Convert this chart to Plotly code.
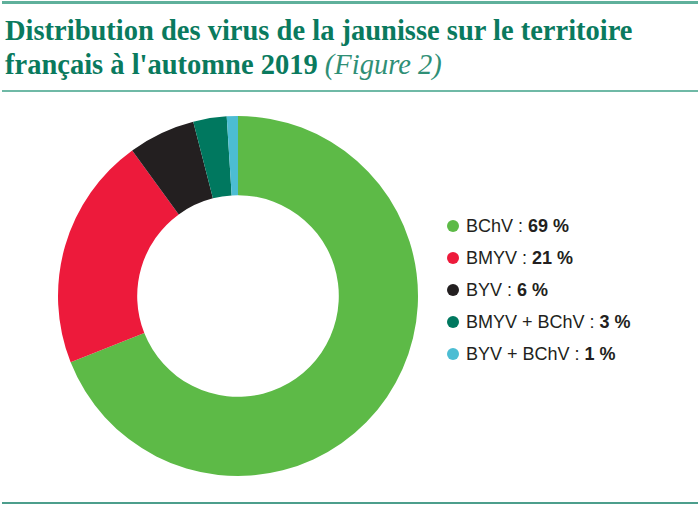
import plotly.graph_objects as go

labels = ["BChV", "BMYV", "BYV", "BMYV + BChV", "BYV + BChV"]
values = [69, 21, 6, 3, 1]
colors = ["#5dba47", "#ed1a3b", "#231f20", "#00785f", "#4cbdd3"]

title_line1 = "Distribution des virus de la jaunisse sur le territoire"
title_line2 = "français à l'automne 2019"
title_fig = "(Figure 2)"

W, H = 700, 506

fig = go.Figure()
fig.add_trace(go.Pie(
    labels=labels, values=values, sort=False, direction="clockwise", rotation=0,
    hole=0.56, marker=dict(colors=colors, line=dict(width=0)),
    textinfo="none", hoverinfo="label+percent", showlegend=False,
    domain=dict(x=[58/W, 418/W], y=[1-476/H, 1-116/H]),
))

ann = [
    dict(x=3/W, y=1-31/H, xref="paper", yref="paper", xanchor="left", yanchor="middle",
         text=f"<b>{title_line1}</b>", showarrow=False,
         font=dict(family="Liberation Serif", size=28.5, color="#0a7a5e")),
    dict(x=3/W, y=1-65/H, xref="paper", yref="paper", xanchor="left", yanchor="middle",
         text=f"<b>{title_line2}</b> <span style='color:#2f8f76'><i>{title_fig}</i></span>",
         showarrow=False,
         font=dict(family="Liberation Serif", size=28.5, color="#0a7a5e")),
]

shapes = []
for i, (lab, val, col) in enumerate(zip(labels, values, colors)):
    yc = 226 + 32 * i
    ann.append(dict(x=464/W, y=1-yc/H, xref="paper", yref="paper", xanchor="left", yanchor="middle",
                    text=f"{lab} : <b>{val} %</b>",
                    showarrow=False,
                    font=dict(family="Liberation Sans", size=18, color="#231f20")))
    shapes.append(dict(type="circle", xref="paper", yref="paper",
                       x0=447/W, x1=459/W, y0=1-(yc+6)/H, y1=1-(yc-6)/H,
                       fillcolor=col, line=dict(width=0)))

shapes += [
    dict(type="rect", xref="paper", yref="paper", x0=2/W, x1=698/W, y0=1-4/H, y1=1-1/H,
         fillcolor="#5fb09b", line=dict(width=0), layer="above"),
    dict(type="line", xref="paper", yref="paper", x0=2/W, x1=698/W, y0=1-91/H, y1=1-91/H,
         line=dict(color="#6fb9a6", width=2)),
    dict(type="line", xref="paper", yref="paper", x0=2/W, x1=698/W, y0=1-503/H, y1=1-503/H,
         line=dict(color="#4c9e8c", width=2)),
]

fig.update_layout(width=W, height=H, margin=dict(l=0, r=0, t=0, b=0),
                  paper_bgcolor="white", plot_bgcolor="white",
                  annotations=ann, shapes=shapes)
fig.write_html("out.html", config=dict(displayModeBar=False),
               post_script="document.body.style.margin='0';document.body.style.overflow='hidden';"
                           "document.body.style.borderTop='0';window.scrollTo(0,0);")
